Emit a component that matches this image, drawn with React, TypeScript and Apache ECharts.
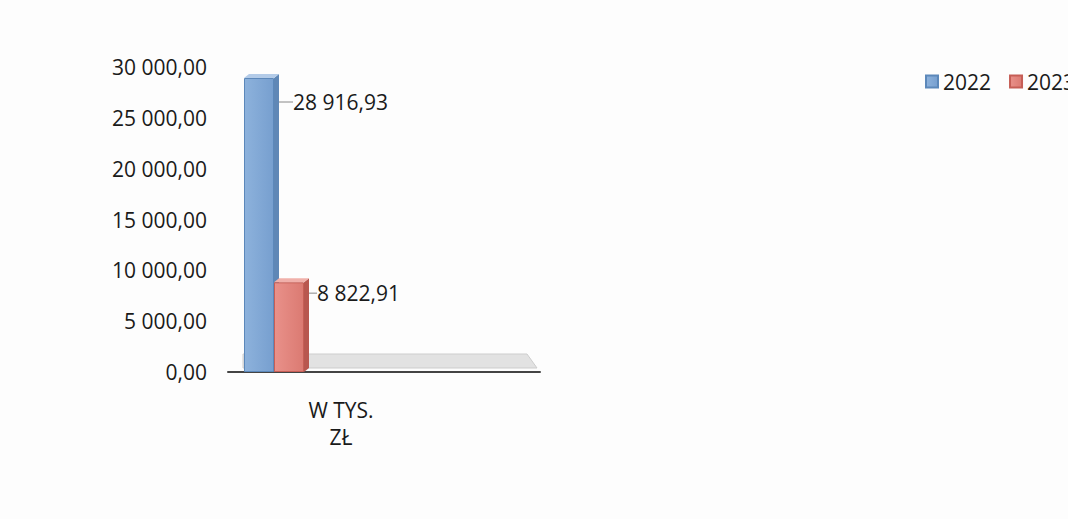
import React, { useEffect, useRef } from 'react';
import * as echarts from 'echarts';

const categories = ['W TYS.\nZŁ'];
const seriesNames = ['2022', '2023'];
const values2022 = [28916.93];
const values2023 = [8822.91];
const yMin = 0;
const yMax = 30000;
const yInterval = 5000;

function fmt(v: number): string {
  const [i, d] = v.toFixed(2).split('.');
  return i.replace(/\B(?=(\d{3})+(?!\d))/g, ' ') + ',' + d;
}

const FONT = '"Open Sans", "Noto Sans", sans-serif';
const FS = 21;
const TXT = '#1a1a1a';
const BAR_W = 30;
const DEPTH = 5;

function make3d(side: number, sideColor: string, topColor: string) {
  return (params: any, api: any) => {
    const v = api.value(1);
    const p = api.coord([api.value(0), v]);
    const b = api.coord([api.value(0), 0]);
    const x0 = p[0] + side * BAR_W;
    const x1 = x0 + BAR_W;
    const dy = DEPTH * 0.8;
    return {
      type: 'group',
      children: [
        {
          type: 'polygon',
          shape: { points: [[x1, p[1]], [x1 + DEPTH, p[1] - dy], [x1 + DEPTH, b[1] - dy], [x1, b[1]]] },
          style: { fill: sideColor },
        },
        {
          type: 'polygon',
          shape: { points: [[x0, p[1]], [x0 + DEPTH, p[1] - dy], [x1 + DEPTH, p[1] - dy], [x1, p[1]]] },
          style: { fill: topColor },
        },
      ],
    };
  };
}

export default function App() {
  const ref = useRef<HTMLDivElement>(null);
  useEffect(() => {
    if (!ref.current) return;
    const chart = echarts.init(ref.current, null, { renderer: 'svg' });
    const blue = new echarts.graphic.LinearGradient(0, 0, 1, 0, [
      { offset: 0, color: '#8db2dc' },
      { offset: 1, color: '#779fcf' },
    ]);
    const red = new echarts.graphic.LinearGradient(0, 0, 1, 0, [
      { offset: 0, color: '#e9918a' },
      { offset: 1, color: '#db7a72' },
    ]);
    chart.setOption({
      animation: false,
      backgroundColor: '#fdfdfd',
      textStyle: { fontFamily: FONT },
      legend: {
        data: seriesNames,
        orient: 'horizontal',
        left: 920,
        top: 66,
        width: 400,
        itemWidth: 12,
        itemHeight: 12,
        itemGap: 18,
        icon: 'rect',
        textStyle: { fontFamily: FONT, fontSize: FS, color: TXT },
      },
      grid: [
        { left: 228, width: 92, top: 67, bottom: 147 },
        { left: 228, right: 528, top: 67, bottom: 147 },
      ],
      xAxis: [
        { gridIndex: 0, type: 'category', data: categories, show: false },
        {
          gridIndex: 1,
          type: 'category',
          data: categories,
          axisLine: { show: true, lineStyle: { color: '#444', width: 2 } },
          axisTick: { show: false },
          axisLabel: {
            margin: 24,
            padding: [0, 86, 0, 0],
            lineHeight: 27,
            fontSize: FS,
            color: TXT,
            fontFamily: FONT,
          },
        },
      ],
      yAxis: [
        { gridIndex: 0, type: 'value', min: yMin, max: yMax, interval: yInterval, show: false },
        {
          gridIndex: 1,
          type: 'value',
          min: yMin,
          max: yMax,
          interval: yInterval,
          axisLine: { show: false },
          axisTick: { show: false },
          splitLine: { show: false },
          axisLabel: { margin: 21, fontSize: FS, color: TXT, fontFamily: FONT, formatter: (v: number) => fmt(v) },
        },
      ],
      graphic: [
        {
          type: 'polygon',
          z: 0,
          shape: { points: [[243, 354], [527, 354], [537, 368], [243, 368]] },
          style: { fill: '#e2e2e2', stroke: '#cdcdcd', lineWidth: 1 },
        },
      ],
      series: [
        {
          name: '2022',
          type: 'bar',
          xAxisIndex: 0,
          yAxisIndex: 0,
          barWidth: BAR_W,
          barGap: '0%',
          z: 3,
          data: values2022,
          itemStyle: { color: blue, borderColor: '#5c88ba', borderWidth: 1 },
          label: {
            show: true,
            position: 'right',
            distance: 5,
            fontSize: FS,
            color: TXT,
            fontFamily: FONT,
            formatter: (p: any) => fmt(p.value),
          },
          labelLayout: { dx: 14, dy: -123 },
          labelLine: { show: true, lineStyle: { color: '#888', width: 1 } },
        },
        {
          name: '2023',
          type: 'bar',
          xAxisIndex: 0,
          yAxisIndex: 0,
          barWidth: BAR_W,
          barGap: '0%',
          z: 5,
          data: values2023,
          itemStyle: { color: red, borderColor: '#c65e56', borderWidth: 1 },
          label: {
            show: true,
            position: 'right',
            distance: 5,
            fontSize: FS,
            color: TXT,
            fontFamily: FONT,
            formatter: (p: any) => fmt(p.value),
          },
          labelLayout: { dx: 8, dy: -34 },
          labelLine: { show: true, lineStyle: { color: '#888', width: 1 } },
        },
        {
          name: '2022-3d',
          type: 'custom',
          xAxisIndex: 0,
          yAxisIndex: 0,
          z: 3,
          silent: true,
          data: values2022.map((v, i) => [i, v]),
          renderItem: make3d(-1, '#5f87b6', '#b3cbe8'),
        },
        {
          name: '2023-3d',
          type: 'custom',
          xAxisIndex: 0,
          yAxisIndex: 0,
          z: 5,
          silent: true,
          data: values2023.map((v, i) => [i, v]),
          renderItem: make3d(0, '#b8574f', '#f0b0aa'),
        },
      ],
    });
    return () => chart.dispose();
  }, []);
  return <div ref={ref} style={{ position: 'absolute', left: 0, top: 0, width: 1068, height: 519 }} />;
}
